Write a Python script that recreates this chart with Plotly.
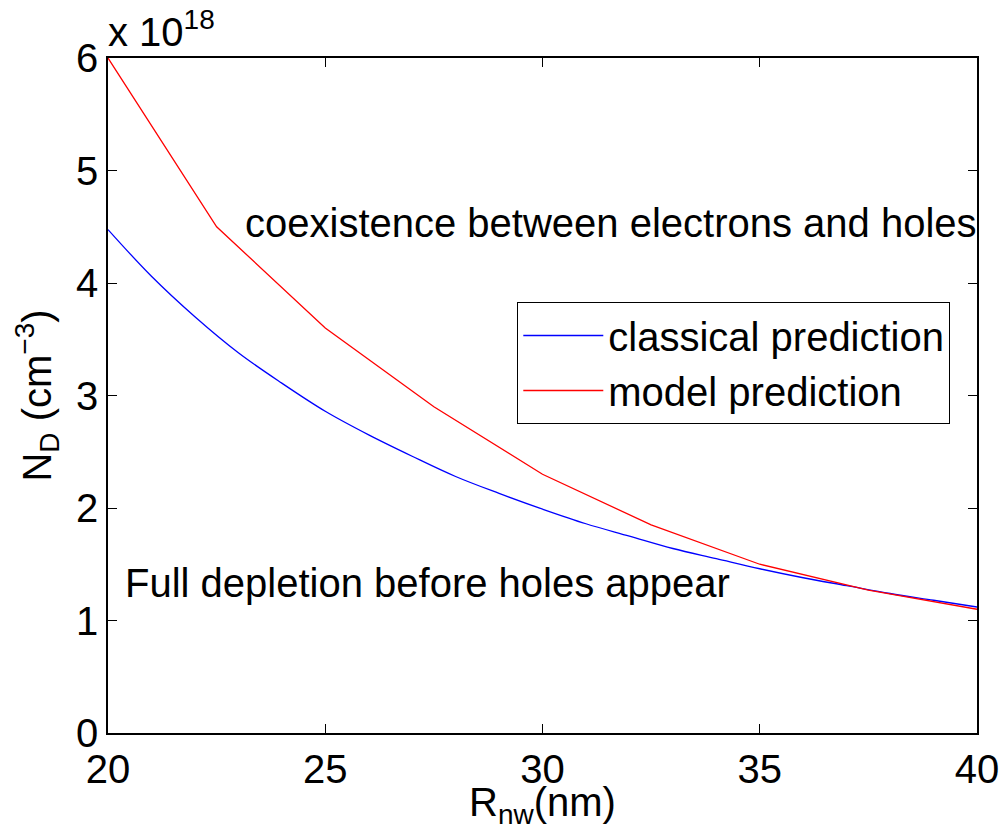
import plotly.graph_objects as go

# Nanowire radius (nm)
r_classical = [20, 21, 22, 23, 24, 25, 26, 27, 28, 29, 30, 31, 32, 33, 34, 35, 36, 37, 38, 39, 40]
# N_D in units of 1e18 cm^-3
nd_classical = [4.475, 4.06, 3.70, 3.38, 3.11, 2.86, 2.65, 2.46, 2.28, 2.13, 1.99,
                1.86, 1.75, 1.64, 1.55, 1.46, 1.38, 1.31, 1.24, 1.18, 1.12]

r_model = [20, 22.5, 25, 27.5, 30, 32.5, 35, 37.5, 40]
nd_model = [6.0, 4.5, 3.6, 2.9, 2.3, 1.85, 1.5, 1.27, 1.1]

x_ticks = [20, 25, 30, 35, 40]
y_ticks = [0, 1, 2, 3, 4, 5, 6]

FONT = "Liberation Sans, Arial, Helvetica, sans-serif"
FS = 40

fig = go.Figure()
fig.add_trace(go.Scatter(x=r_classical, y=nd_classical, mode="lines",
                         name="classical prediction", line_shape="spline",
                         line=dict(color="#0000ff", width=1.3)))
fig.add_trace(go.Scatter(x=r_model, y=nd_model, mode="lines",
                         name="model prediction",
                         line=dict(color="#ff0000", width=1.3)))

axis_common = dict(showgrid=False, zeroline=False, showline=True, linecolor="black",
                   linewidth=1.5, mirror="ticks", ticks="inside", ticklen=9,
                   tickcolor="black", tickwidth=1, automargin=False,
                   tickfont=dict(family=FONT, size=FS, color="black"))

fig.update_layout(
    width=1003, height=830,
    margin=dict(l=108, r=26, t=58, b=97, autoexpand=False),
    paper_bgcolor="white", plot_bgcolor="white",
    font=dict(family=FONT, size=FS, color="black"),
    xaxis=dict(range=[20, 40], tickvals=x_ticks, ticktext=[str(v) for v in x_ticks],
               title=dict(text="R<sub>nw</sub>(nm)", font=dict(family=FONT, size=FS), standoff=0),
               **axis_common),
    yaxis=dict(range=[0, 6], tickvals=y_ticks, ticktext=[str(v) for v in y_ticks],
               title=dict(text="N<sub>D</sub> (cm<sup>−3</sup>)", font=dict(family=FONT, size=FS), standoff=12),
               **axis_common),
    legend=dict(x=0.471, y=0.6385, xanchor="left", yanchor="top",
                bgcolor="white", bordercolor="black", borderwidth=1,
                itemwidth=80, tracegroupgap=0,
                font=dict(family=FONT, size=FS, color="black")),
    showlegend=True,
)

fig.add_annotation(x=23.11, y=4.53, xref="x", yref="y", xanchor="left", yanchor="middle",
                   text="coexistence between electrons and holes", showarrow=False,
                   font=dict(family=FONT, size=FS, color="black"))
fig.add_annotation(x=20.345, y=1.33, xref="x", yref="y", xanchor="left", yanchor="middle",
                   text="Full depletion before holes appear", showarrow=False,
                   font=dict(family=FONT, size=FS, color="black"))
fig.add_annotation(x=0, y=1, xref="paper", yref="paper", xanchor="left", yanchor="bottom",
                   xshift=-2, yshift=2,
                   text="x 10<sup>18</sup>", showarrow=False,
                   font=dict(family=FONT, size=FS, color="black"))

fig.write_html("out.html")
